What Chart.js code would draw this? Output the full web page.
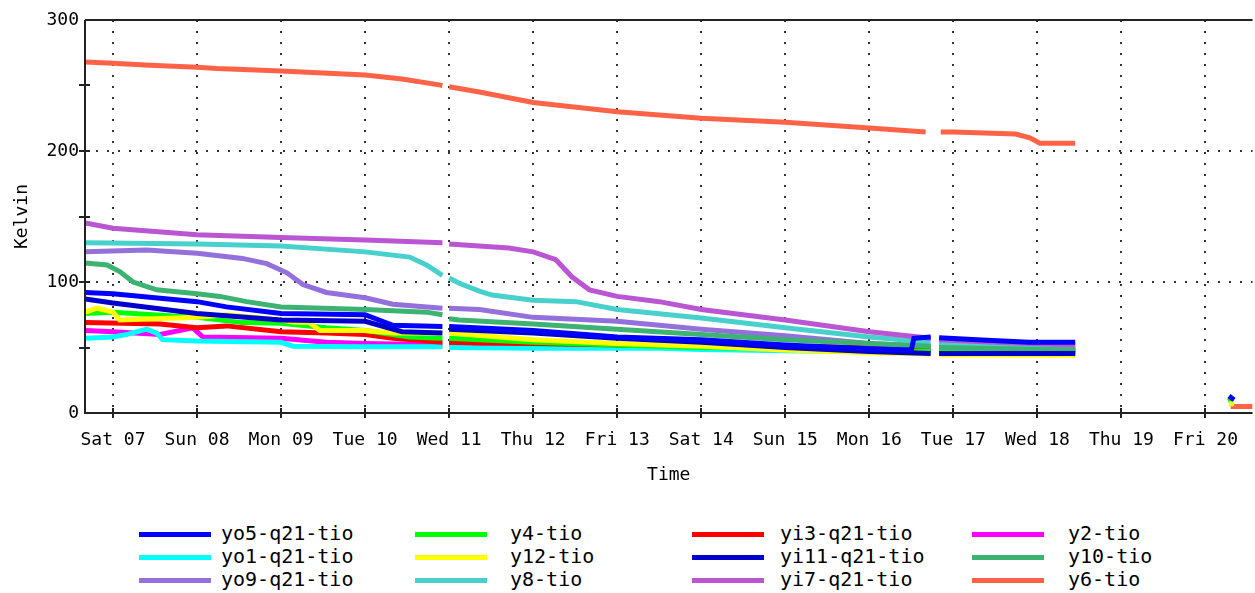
<!DOCTYPE html>
<html>
<head>
<meta charset="utf-8">
<title>Kelvin vs Time</title>
<script src="https://cdn.jsdelivr.net/npm/chart.js@4.4.1/dist/chart.umd.min.js"></script>
<style>
  html, body { margin: 0; padding: 0; background: #fff; overflow: hidden; }
  #wrap { position: relative; width: 1255px; height: 593px; }
  #chart { position: absolute; left: 0; top: 0; }
  .legLine { position: absolute; width: 72px; height: 5px; }
  .legText { position: absolute; font: 20px "DejaVu Sans Mono", monospace; line-height: 20px; color: #000; white-space: nowrap; }
</style>
</head>
<body>
<div id="wrap">
  <canvas id="chart" width="1255" height="500"></canvas>
  <div id="legend"></div>
</div>
<script>
// x values are days counted from Sat 07 00:00, null = break in the trace
const dayLabels = ['Sat 07', 'Sun 08', 'Mon 09', 'Tue 10', 'Wed 11', 'Thu 12', 'Fri 13',
                   'Sat 14', 'Sun 15', 'Mon 16', 'Tue 17', 'Wed 18', 'Thu 19', 'Fri 20'];

const yo5 = [[-0.33,92],[0,91],[1,85],[1.35,81],[2,76],[3,75],[3.33,67],[3.92,66],[3.955,null],[4,66],[5,63],[6,58],[7,56],[8,52],[9,49],[9.5,48],[9.53,57],[9.73,58],[9.78,null],[9.83,57.5],[10.4,55.5],[10.9,54],[11.45,54],[12.5,null],[13.28,13],[13.34,10]];
const yo1 = [[-0.33,57],[0,58],[0.17,60],[0.4,64],[0.52,61],[0.59,56],[1,55],[2,54],[2.14,51],[3,50.5],[3.92,50.5],[3.955,null],[4,50],[5,49.5],[6.5,49.5],[7,48.5],[8,47.5],[9,47],[9.73,46],[9.78,null],[9.83,46],[11.45,46]];
const yo9 = [[-0.33,123],[0.4,124.5],[1,122],[1.54,118],[1.83,114],[2.07,107],[2.26,98],[2.54,92],[3,88],[3.33,83],[3.92,80],[3.955,null],[4,80],[4.36,79],[5,73],[6,70],[7,64],[8,59],[9,53],[9.73,51],[9.78,null],[9.83,51],[11.45,50]];
const y4 = [[-0.33,76],[0,77],[1,73],[1.54,69],[2,68.5],[2.54,65],[3,63],[3.53,58],[3.92,57],[3.955,null],[4,57],[4.36,56],[5,54],[6,52],[7,50],[8,49],[9,48],[9.73,47],[9.78,null],[9.83,47],[11.45,46],[12.5,null],[13.27,9],[13.33,11]];
const y12 = [[-0.33,77],[-0.19,80],[0,77],[0.08,71],[1,73],[1.35,75],[2,71],[2.14,69.5],[2.34,69],[2.46,63],[3,63],[3.33,61],[3.92,61],[3.955,null],[4,61],[5,56],[6,53],[7,51],[8,48],[9,46],[9.73,45],[9.78,null],[9.83,44.5],[11.45,44],[12.5,null],[13.28,7],[13.34,7]];
const y8 = [[-0.33,130],[1,129],[2,127.5],[3,123],[3.53,119],[3.73,113],[3.92,105],[3.955,null],[4,103],[4.12,99],[4.36,93],[4.51,90],[5,86],[5.51,85],[6,79],[7,72.5],[8,65],[9,58],[9.73,54],[9.78,null],[9.83,53],[10.5,51],[11.45,49]];
const yi3 = [[-0.33,69],[0.56,68],[1,65],[1.35,66.5],[2,62],[2.54,61],[3,60],[3.33,57],[3.92,54],[3.955,null],[4,54],[4.36,53.5],[5,53],[6,52],[7,52],[8,51],[9,50],[9.73,49],[9.78,null],[9.83,49],[11.45,48]];
const yi11 = [[-0.33,87],[0,84],[1,76],[2,71],[3,70],[3.44,62],[3.92,61],[3.955,null],[4,64],[5,61],[6,57],[7,54],[8,50],[9,47],[9.73,45.5],[9.78,null],[9.83,45.5],[11.45,45.5]];
const yi7 = [[-0.33,145],[0,141],[1,136],[2,134],[3,132],[3.92,130],[3.955,null],[4,129],[4.71,126],[5,123],[5.27,117],[5.46,104],[5.67,94],[6,89],[6.5,85],[7,79],[8,71],[9,62],[9.73,57],[9.78,null],[9.83,56],[10.5,54],[11.45,52]];
const y2 = [[-0.33,63],[0,62],[0.56,60],[0.95,65],[1.07,58],[2,57],[2.54,54],[3,53],[3.92,52],[3.955,null],[4,53],[5.2,53],[6,51],[7,50],[8,49],[9,48],[9.73,47],[9.78,null],[9.83,47],[11.45,47]];
const y10 = [[-0.33,114.5],[-0.07,113],[0.08,108],[0.24,100],[0.52,94],[1,91],[1.27,89],[1.59,85],[2,81],[3,79],[3.73,77],[3.92,75],[3.955,null],[4,72],[4.12,71],[5,68],[6,64],[7,60],[8,56],[9,53],[9.73,51],[9.78,null],[9.83,50],[11.45,48]];
const y6 = [[-0.33,268],[0,267],[0.38,265.6],[1,264],[1.24,263],[2,261],[3,258],[3.44,255],[3.88,250.5],[3.92,250],[3.955,null],[4,249],[4.36,245],[5,237],[6,230],[7,225],[8,222],[9,217.5],[9.67,214.5],[9.76,null],[9.85,214.5],[10,214.5],[10.74,213],[10.91,210],[11.03,206],[11.45,206],[12.5,null],[13.3,5],[13.56,5]];

const seriesNames = ['yo5-q21-tio', 'yo1-q21-tio', 'yo9-q21-tio', 'y4-tio', 'y12-tio', 'y8-tio',
                     'yi3-q21-tio', 'yi11-q21-tio', 'yi7-q21-tio', 'y2-tio', 'y10-tio', 'y6-tio'];
const seriesData = [yo5, yo1, yo9, y4, y12, y8, yi3, yi11, yi7, y2, y10, y6];
const seriesColors = ['#0000ff', '#00ffff', '#9370db', '#00ff00', '#ffff00', '#48d1cc',
                      '#ff0000', '#0000cd', '#ba55d3', '#ff00ff', '#3cb371', '#ff6347'];
// lower number = drawn on top
const drawOrder = [1, 10, 8, 5, 3, 7, 9, 2, 6, 11, 4, 12];

const monoFont = '"DejaVu Sans Mono", monospace';

const datasets = seriesNames.map((name, i) => ({
    label: name,
    data: seriesData[i].map(p => ({ x: p[0], y: p[1] })),
    borderColor: seriesColors[i],
    backgroundColor: seriesColors[i],
    borderWidth: 5,
    pointRadius: 0,
    tension: 0,
    spanGaps: false,
    fill: false,
    order: drawOrder[i]
}));

// axis frame, top line and the little tick crosses
const framePlugin = {
    id: 'frame',
    afterDraw(chart) {
        const ctx = chart.ctx;
        const a = chart.chartArea;
        const xs = chart.scales.x, ys = chart.scales.y;
        ctx.save();
        ctx.strokeStyle = '#222';
        ctx.lineWidth = 2;
        ctx.beginPath();
        ctx.moveTo(a.left, a.top); ctx.lineTo(a.right, a.top);
        ctx.moveTo(a.left, a.top); ctx.lineTo(a.left, a.bottom); ctx.lineTo(a.right, a.bottom);
        dayLabels.forEach((_, i) => {
            const px = Math.round(xs.getPixelForValue(i));
            ctx.moveTo(px, a.bottom - 5); ctx.lineTo(px, a.bottom + 5);
        });
        for (let v = 50; v < 300; v += 50) {
            const py = Math.round(ys.getPixelForValue(v));
            ctx.moveTo(a.left - 6, py); ctx.lineTo(a.left + 5, py);
        }
        ctx.stroke();
        ctx.restore();
    }
};

const ctx = document.getElementById('chart').getContext('2d');
const chart = new Chart(ctx, {
    type: 'line',
    data: { datasets: datasets },
    options: {
        responsive: false,
        animation: false,
        devicePixelRatio: 1,
        layout: { padding: { top: 20, right: 0, left: 0, bottom: 0 } },
        plugins: {
            legend: { display: false },
            tooltip: { enabled: false }
        },
        scales: {
            x: {
                type: 'linear',
                min: -0.333,
                max: 13.56,
                afterBuildTicks: scale => { scale.ticks = dayLabels.map((_, i) => ({ value: i })); },
                afterFit: scale => { scale.height = 87; },
                ticks: {
                    autoSkip: false,
                    maxRotation: 0,
                    padding: 17,
                    color: '#000',
                    font: { family: monoFont, size: 18 },
                    callback: v => dayLabels[v]
                },
                grid: { color: '#333', lineWidth: 2, drawTicks: false },
                border: { display: false, dash: [2, 9] },
                title: {
                    display: true,
                    text: 'Time',
                    color: '#000',
                    font: { family: monoFont, size: 18 },
                    padding: { top: 0, bottom: 14 }
                }
            },
            y: {
                min: 0,
                max: 300,
                afterFit: scale => { scale.width = 85; },
                ticks: {
                    stepSize: 50,
                    padding: 6,
                    color: '#000',
                    font: { family: monoFont, size: 18 },
                    callback: v => (v % 100 === 0 ? v : '')
                },
                grid: {
                    lineWidth: 2,
                    drawTicks: false,
                    color: c => (c.tick && (c.tick.value === 100 || c.tick.value === 200)) ? '#333' : 'rgba(0,0,0,0)'
                },
                border: { display: false, dash: [2, 9] },
                title: {
                    display: true,
                    text: 'Kelvin',
                    color: '#000',
                    font: { family: monoFont, size: 18 },
                    padding: { top: 12, bottom: 0 }
                }
            }
        }
    },
    plugins: [framePlugin]
});

// legend: three rows, four columns, filled column by column
const legLineX = [139, 415, 692, 972];
const legTextX = [221, 510, 780, 1068];
const legRowY = [534, 557, 580];
const legend = document.getElementById('legend');
datasets.forEach((ds, i) => {
    const col = Math.floor(i / 3), row = i % 3;
    const line = document.createElement('div');
    line.className = 'legLine';
    line.style.left = legLineX[col] + 'px';
    line.style.top = (legRowY[row] - 2) + 'px';
    line.style.background = ds.borderColor;
    const text = document.createElement('div');
    text.className = 'legText';
    text.style.left = legTextX[col] + 'px';
    text.style.top = (legRowY[row] - 11) + 'px';
    text.textContent = ds.label;
    legend.appendChild(line);
    legend.appendChild(text);
});
</script>
</body>
</html>
